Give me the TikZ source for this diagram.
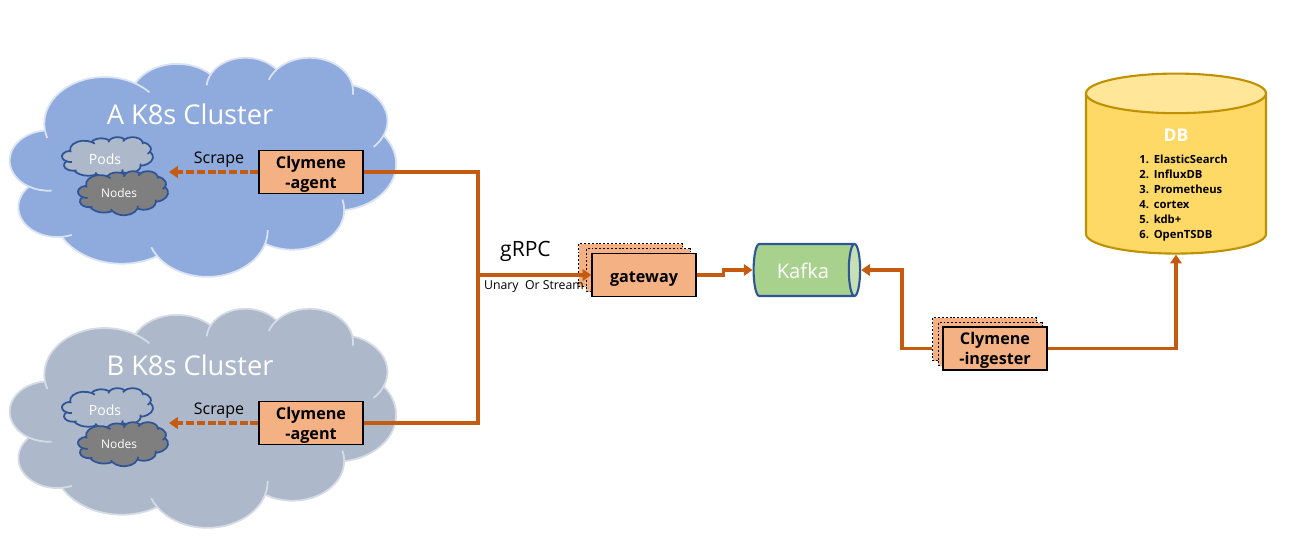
\documentclass[tikz,border=0pt]{standalone}
\usepackage{fontspec}
\setmainfont{Open Sans}
\usetikzlibrary{arrows.meta, positioning, calc, shapes.geometric}
\definecolor{clusterblue}{HTML}{8FAADC}
\definecolor{clustergrey}{HTML}{ADB9CA}
\definecolor{clusterblueedge}{HTML}{DAE3F3}
\definecolor{clustergreyedge}{HTML}{D6DCE5}
\definecolor{podedge}{HTML}{2F5597}
\definecolor{nodegrey}{HTML}{7F7F7F}
\definecolor{boxorange}{HTML}{F4B183}
\definecolor{wireorange}{HTML}{C55A11}
\definecolor{kafkagreen}{HTML}{A9D18E}
\definecolor{kafkaend}{HTML}{C5E0B4}
\definecolor{dbyellow}{HTML}{FFD966}
\definecolor{dbtop}{HTML}{FFE699}
\definecolor{dbedge}{HTML}{BF9000}
\tikzset{
  pics/puffy/.style={code={
    \path[pic actions] (3.9,14.37) coordinate (-p1)
      arc[start angle=-187.75, end angle=-59.6, x radius=6.753, y radius=9.19] coordinate (-p2)
      arc[start angle=-152, end angle=-45.46, x radius=5.333, y radius=7.267] coordinate (-p3)
      arc[start angle=-153.48, end angle=-37.33, x radius=4.365, y radius=5.945] coordinate (-p4)
      arc[start angle=-139.72, end angle=-10.22, x radius=4.857, y radius=6.595] coordinate (-p5)
      arc[start angle=-74.74, end angle=23.22, x radius=5.333, y radius=7.273] coordinate (-p6)
      arc[start angle=-37.53, end angle=81.86, x radius=6.775, y radius=9.22] coordinate (-p7)
      arc[start angle=0.46, end angle=122, x radius=5.785, y radius=7.867] coordinate (-p8)
      arc[start angle=16.84, end angle=146.22, x radius=6.752, y radius=9.215] coordinate (-p9)
      arc[start angle=59.01, end angle=150.18, x radius=7.72, y radius=10.543] coordinate (-p10)
      arc[start angle=-276.69, end angle=-136.89, x radius=4.36, y radius=5.918] coordinate (-p11)
      arc[start angle=-239.6, end angle=-95.88, x radius=4.345, y radius=5.945] -- cycle;
    \path[pic actions, fill=none]
      (-p1) arc[start angle=-187.75, end angle=-198, x radius=6.753, y radius=9.19]
      (-p2) arc[start angle=-59.6, end angle=-42, x radius=6.753, y radius=9.19]
      (-p3) arc[start angle=-153.48, end angle=-175, x radius=4.365, y radius=5.945]
      (-p4) arc[start angle=-139.72, end angle=-160, x radius=4.857, y radius=6.595]
      (-p5) arc[start angle=-10.22, end angle=6, x radius=4.857, y radius=6.595]
      (-p6) arc[start angle=23.22, end angle=45, x radius=5.333, y radius=7.273]
      (-p7) arc[start angle=0.46, end angle=-15, x radius=5.785, y radius=7.867]
      (-p8) arc[start angle=16.84, end angle=0, x radius=6.752, y radius=9.215]
      (-p9) arc[start angle=146.22, end angle=158.5, x radius=6.752, y radius=9.215]
      (-p10) arc[start angle=83.31, end angle=68.2, x radius=4.36, y radius=5.918]
      (-p11) arc[start angle=120.4, end angle=85.5, x radius=4.345, y radius=5.945];
  }},
  wire/.style={draw=wireorange, line width=1.9pt},
  flow/.style={wire, -{Triangle[length=5pt, width=6.5pt]}},
  procbox/.style={draw=black, fill=boxorange, line width=0.7pt, minimum width=20.8mm, minimum height=8.6mm,
    inner sep=0pt, font=\fontsize{9.2}{11.3}\selectfont\bfseries, align=center, text depth=0pt},
  backbox/.style={procbox, line width=0.5pt, dash pattern=on 1.1pt off 1.1pt},
}
\begin{document}
\begin{tikzpicture}[x=0.2mm, y=-0.2mm]
  \useasboundingbox (0,0) rectangle (1293,547);
  % clusters
  \foreach \clu/\dy/\cfill/\cedge in {A/0/clusterblue/clusterblueedge, B/251/clustergrey/clustergreyedge} {
    \pic[fill=\cfill, draw=\cedge, line width=1pt, xscale=8.935, yscale=5.07] at (10,57+\dy) {puffy};
    \pic[fill=clustergrey, draw=podedge, line width=1pt, xscale=2.106, yscale=0.95] at (62,137+\dy) {puffy};
    \pic[fill=nodegrey, draw=podedge, line width=1pt, xscale=2.083, yscale=1.02] at (78,171+\dy) {puffy};
    \node[text=white, font=\fontsize{15.5}{18}\selectfont] (title\clu) at (190,114+\dy) {\clu{} K8s Cluster};
    \node[text=white, font=\fontsize{8}{10}\selectfont] (pods\clu) at (105,159+\dy) {Pods};
    \node[text=white, font=\fontsize{6.8}{8}\selectfont] (nodes\clu) at (119,193+\dy) {Nodes};
    \node[font=\fontsize{9.1}{11}\selectfont] (scrape\clu) at (219,160+\dy) {Scrape};
    \node[procbox] (agent\clu) at (311,172+\dy) {Clymene\\-agent};
    \coordinate (scrapeEnd\clu) at (169,172+\dy);
    \draw[flow, dash pattern=on 4.5pt off 1.6pt] (agent\clu.west) -- (scrapeEnd\clu);
  }
  % gateway stack
  \node[backbox] (gatewayBack) at (630.5,265) {};
  \node[backbox] (gatewayMid) at (638,270) {};
  \node[procbox, text height=8.2pt] (gateway) at (644,275) {gateway};
  \node[font=\fontsize{12}{14}\selectfont] (grpc) at (525.5,251) {gRPC};
  \node[font=\fontsize{7}{8}\selectfont] (rpcmode) at (534,287) {Unary\ \ Or Stream};
  \coordinate (bus) at (478,275);
  \draw[wire] (agentA.east) -| (bus);
  \draw[wire] (agentB.east) -| (bus);
  \draw[flow] (bus) -- (gateway.west);
  % kafka
  \node[cylinder, draw=podedge, line width=1.2pt, cylinder uses custom fill, cylinder body fill=kafkagreen,
    cylinder end fill=kafkaend, shape aspect=1.2, minimum width=10.4mm, minimum height=21.3mm, inner sep=0pt] (kafka) at (803.5,270) {\phantom{x}};
  \node[text=white, font=\fontsize{11.5}{13}\selectfont] (kafkaLabel) at (803,271) {Kafka};
  \draw[flow] (gateway.east) -- ++(27,0) |- (kafka.west);
  % ingester stack
  \node[backbox] (ingesterBack) at (984.5,339) {};
  \node[backbox] (ingesterMid) at (990,344) {};
  \node[procbox] (ingester) at (995,348.5) {Clymene\\-ingester};
  \draw[flow] (ingesterBack.west |- ingester.west) -- ++(-30,0) |- (kafka.east);
  % db
  \node[cylinder, shape border rotate=90, draw=dbedge, line width=1.2pt, cylinder uses custom fill, cylinder body fill=dbyellow,
    cylinder end fill=dbtop, shape aspect=4.3, minimum width=36mm, minimum height=36mm, inner sep=0pt] (db) at (1176,174) {\phantom{x}};
  \node[text=white, font=\fontsize{10}{11}\selectfont\bfseries] (dbtitle) at (1176,135) {DB};
  \node[anchor=north west, inner sep=0pt, align=left, font=\fontsize{6.4}{8.5}\selectfont\bfseries] (dblist) at (1139,155)
    {1.\ \,ElasticSearch\\2.\ \,InfluxDB\\3.\ \,Prometheus\\4.\ \,cortex\\5.\ \,kdb+\\6.\ \,OpenTSDB};
  \draw[flow] (ingester.east) -| (db.south);
\end{tikzpicture}
\end{document}
